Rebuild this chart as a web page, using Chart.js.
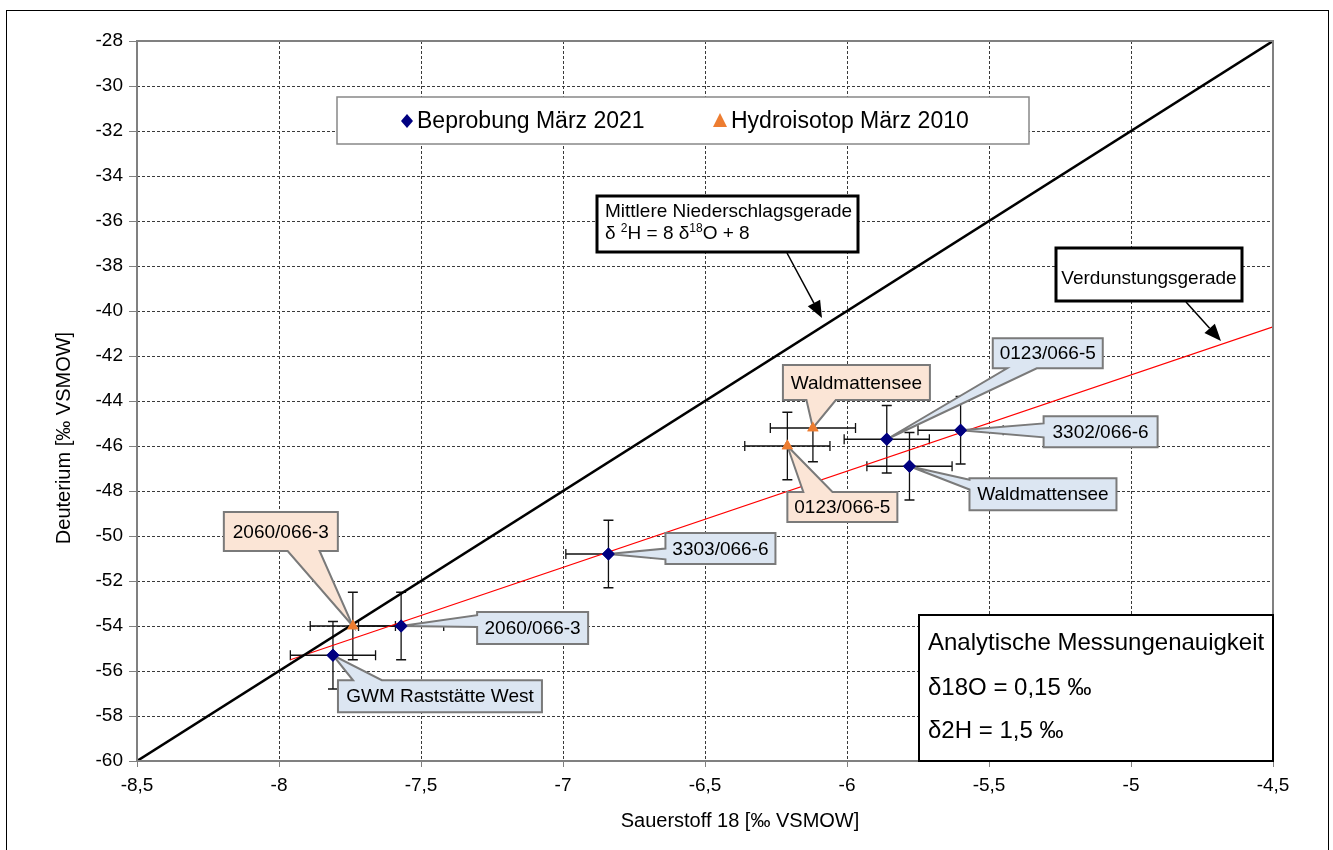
<!DOCTYPE html>
<html>
<head>
<meta charset="utf-8">
<script src="https://cdn.jsdelivr.net/npm/chart.js@4.4.0/dist/chart.umd.min.js"></script>
<style>
  html, body { margin: 0; padding: 0; background: #fff; }
  canvas { display: block; }
</style>
</head>
<body>
<canvas id="isoChart" width="1333" height="850"></canvas>
<script>
// Messwerte (δ18O / δ2H in ‰ VSMOW)
const beprobungNames = ['GWM Raststätte West', '2060/066-3', '3303/066-6', '0123/066-5', '3302/066-6', 'Waldmattensee'];
const beprobungO18 = [-7.81, -7.57, -6.84, -5.86, -5.60, -5.78];
const beprobungH2 = [-55.3, -54.0, -50.8, -45.7, -45.3, -46.9];

const hydroNames = ['2060/066-3', 'Waldmattensee', '0123/066-5'];
const hydroO18 = [-7.74, -6.12, -6.21];
const hydroH2 = [-54.0, -45.2, -46.0];

// Messungenauigkeit (Fehlerbalken)
const errO18 = 0.15;
const errH2 = 1.5;

// Geraden
const gmwlO18 = [-8.5, -4.5];
const gmwlH2 = [-60, -28];
const evapO18 = [-7.96, -4.5];
const evapH2 = [-55.5, -40.7];

const xTickLabels = ['-8,5', '-8', '-7,5', '-7', '-6,5', '-6', '-5,5', '-5', '-4,5'];

const FONT = '"Liberation Sans", Arial, sans-serif';
const toPoints = (xs, ys) => xs.map((x, i) => ({ x: x, y: ys[i] }));

// Beschriftungen: Box relativ zum Messpunkt (px), Seite und Lage der Spitze
const callouts = [
  { ds: 0, i: 0, dx: 5, dy: 25, w: 204, h: 32, side: 'top', b: [0.074, 0.215] },
  { ds: 0, i: 1, dx: 76, dy: -14, w: 111, h: 32, side: 'left', b: [0.1, 0.47] },
  { ds: 0, i: 2, dx: 57, dy: -21, w: 110, h: 31, side: 'left', b: [0.5, 0.85] },
  { ds: 0, i: 3, dx: 106, dy: -101, w: 110, h: 30, side: 'bottom', b: [0.13, 0.4] },
  { ds: 0, i: 4, dx: 83, dy: -14, w: 114, h: 31, side: 'left', b: [0.23, 0.68] },
  { ds: 0, i: 5, dx: 60, dy: 12, w: 147, h: 32, side: 'left', b: [0.05, 0.35] },
  { ds: 1, i: 0, dx: -129, dy: -114, w: 114, h: 39, side: 'bottom', b: [0.56, 0.84] },
  { ds: 1, i: 1, dx: -30, dy: -63, w: 147, h: 35, side: 'bottom', b: [0.16, 0.36] },
  { ds: 1, i: 2, dx: 0, dy: 46, w: 110, h: 30, side: 'top', b: [0.145, 0.41] }
];
const calloutFill = ['#dce6f2', '#fbe5d6'];
const calloutNames = [beprobungNames, hydroNames];

function calloutPath(ctx, x, y, w, h, side, b0, b1, tx, ty) {
  ctx.beginPath();
  ctx.moveTo(x, y);
  if (side === 'top') { ctx.lineTo(x + w * b0, y); ctx.lineTo(tx, ty); ctx.lineTo(x + w * b1, y); }
  ctx.lineTo(x + w, y);
  if (side === 'right') { ctx.lineTo(x + w, y + h * b0); ctx.lineTo(tx, ty); ctx.lineTo(x + w, y + h * b1); }
  ctx.lineTo(x + w, y + h);
  if (side === 'bottom') { ctx.lineTo(x + w * b1, y + h); ctx.lineTo(tx, ty); ctx.lineTo(x + w * b0, y + h); }
  ctx.lineTo(x, y + h);
  if (side === 'left') { ctx.lineTo(x, y + h * b1); ctx.lineTo(tx, ty); ctx.lineTo(x, y + h * b0); }
  ctx.closePath();
}

function arrow(ctx, x0, y0, x1, y1) {
  const a = Math.atan2(y1 - y0, x1 - x0);
  const len = 17, hw = 7;
  const bx = x1 - len * Math.cos(a), by = y1 - len * Math.sin(a);
  ctx.strokeStyle = '#000';
  ctx.lineWidth = 1.5;
  ctx.beginPath();
  ctx.moveTo(x0, y0);
  ctx.lineTo(bx, by);
  ctx.stroke();
  ctx.fillStyle = '#000';
  ctx.beginPath();
  ctx.moveTo(x1, y1);
  ctx.lineTo(bx + hw * Math.sin(a), by - hw * Math.cos(a));
  ctx.lineTo(bx - hw * Math.sin(a), by + hw * Math.cos(a));
  ctx.closePath();
  ctx.fill();
}

function box(ctx, x, y, w, h, lw, color) {
  ctx.fillStyle = '#fff';
  ctx.fillRect(x, y, w, h);
  ctx.strokeStyle = color;
  ctx.lineWidth = lw;
  ctx.strokeRect(x, y, w, h);
}

// Text mit Hochstellungen: [text, hoch?]
function runs(ctx, parts, x, y, size) {
  ctx.textAlign = 'left';
  ctx.textBaseline = 'alphabetic';
  parts.forEach(p => {
    const sup = p[1];
    ctx.font = (sup ? Math.round(size * 0.65) : size) + 'px ' + FONT;
    ctx.fillText(p[0], x, sup ? y - size * 0.38 : y);
    x += ctx.measureText(p[0]).width;
  });
}

const overlay = {
  id: 'overlay',
  beforeDatasetsDraw(chart) {
    const ctx = chart.ctx, xs = chart.scales.x, ys = chart.scales.y;
    ctx.save();
    ctx.strokeStyle = '#111';
    ctx.lineWidth = 1.3;
    const cap = 5;
    [[beprobungO18, beprobungH2], [hydroO18, hydroH2]].forEach(([ox, hy]) => {
      ox.forEach((o, i) => {
        const px = xs.getPixelForValue(o), py = ys.getPixelForValue(hy[i]);
        const xl = xs.getPixelForValue(o - errO18), xr = xs.getPixelForValue(o + errO18);
        const yt = ys.getPixelForValue(hy[i] + errH2), yb = ys.getPixelForValue(hy[i] - errH2);
        ctx.beginPath();
        ctx.moveTo(xl, py); ctx.lineTo(xr, py);
        ctx.moveTo(xl, py - cap); ctx.lineTo(xl, py + cap);
        ctx.moveTo(xr, py - cap); ctx.lineTo(xr, py + cap);
        ctx.moveTo(px, yt); ctx.lineTo(px, yb);
        ctx.moveTo(px - cap, yt); ctx.lineTo(px + cap, yt);
        ctx.moveTo(px - cap, yb); ctx.lineTo(px + cap, yb);
        ctx.stroke();
      });
    });
    ctx.restore();
  },
  afterDatasetsDraw(chart) {
    const ctx = chart.ctx, area = chart.chartArea;
    ctx.save();

    // Beschriftungen der Messpunkte
    callouts.forEach(c => {
      const pt = chart.getDatasetMeta(c.ds).data[c.i];
      const x = pt.x + c.dx, y = pt.y + c.dy;
      calloutPath(ctx, x, y, c.w, c.h, c.side, c.b[0], c.b[1], pt.x, pt.y);
      ctx.fillStyle = calloutFill[c.ds];
      ctx.fill();
      ctx.strokeStyle = '#7a7a7a';
      ctx.lineWidth = 2;
      ctx.lineJoin = 'miter';
      ctx.stroke();
      ctx.fillStyle = '#000';
      ctx.font = '19px ' + FONT;
      ctx.textAlign = 'center';
      ctx.textBaseline = 'middle';
      ctx.fillText(calloutNames[c.ds][c.i], x + c.w / 2, y + c.h / 2 + 1);
    });

    // Marker wieder obenauf
    [0, 1].forEach(d => chart.getDatasetMeta(d).data.forEach(p => p.draw(ctx, area)));

    // Plotbereich-Rahmen
    ctx.strokeStyle = '#808080';
    ctx.lineWidth = 2;
    ctx.strokeRect(area.left, area.top, area.right - area.left, area.bottom - area.top);

    // Legende
    box(ctx, 337, 97, 692, 47, 1.5, '#888');
    const ds = chart.data.datasets;
    ctx.fillStyle = ds[0].backgroundColor;
    ctx.beginPath();
    ctx.moveTo(407, 114); ctx.lineTo(413, 121); ctx.lineTo(407, 128); ctx.lineTo(401, 121);
    ctx.closePath(); ctx.fill();
    ctx.fillStyle = ds[1].backgroundColor;
    ctx.beginPath();
    ctx.moveTo(720, 113); ctx.lineTo(727, 127); ctx.lineTo(713, 127);
    ctx.closePath(); ctx.fill();
    ctx.fillStyle = '#000';
    ctx.font = '23px ' + FONT;
    ctx.textAlign = 'left';
    ctx.textBaseline = 'middle';
    ctx.fillText(ds[0].label, 417, 122);
    ctx.fillText(ds[1].label, 731, 122);

    // Mittlere Niederschlagsgerade
    arrow(ctx, 787, 253, 822, 318);
    box(ctx, 597, 196, 261, 56, 3, '#000');
    ctx.fillStyle = '#000';
    ctx.font = '19px ' + FONT;
    ctx.textAlign = 'left';
    ctx.textBaseline = 'alphabetic';
    ctx.fillText('Mittlere Niederschlagsgerade', 605, 217);
    runs(ctx, [['δ ', false], ['2', true], ['H = 8 δ', false], ['18', true], ['O + 8', false]], 605, 239, 19);

    // Verdunstungsgerade
    arrow(ctx, 1186, 302, 1221, 341);
    box(ctx, 1056, 248, 186, 53, 3, '#000');
    ctx.fillStyle = '#000';
    ctx.font = '19px ' + FONT;
    ctx.textAlign = 'center';
    ctx.textBaseline = 'middle';
    ctx.fillText('Verdunstungsgerade', 1149, 279);

    // Messungenauigkeit
    box(ctx, 919, 615, 354, 146, 2, '#000');
    ctx.fillStyle = '#000';
    ctx.font = '24px ' + FONT;
    ctx.textAlign = 'left';
    ctx.textBaseline = 'middle';
    ctx.fillText('Analytische Messungenauigkeit', 928, 643);
    ctx.fillText('δ18O = ' + String(errO18).replace('.', ',') + ' ‰', 928, 688);
    ctx.fillText('δ2H = ' + String(errH2).replace('.', ',') + ' ‰', 928, 731);

    ctx.restore();
  },
  afterDraw(chart) {
    const ctx = chart.ctx;
    ctx.save();
    ctx.fillStyle = '#000';
    ctx.font = '20px ' + FONT;
    ctx.textAlign = 'center';
    ctx.textBaseline = 'middle';
    ctx.fillText('Sauerstoff 18 [‰ VSMOW]', 740, 821);
    ctx.translate(64, 438);
    ctx.rotate(-Math.PI / 2);
    ctx.fillText('Deuterium [‰ VSMOW]', 0, 0);
    ctx.restore();

    ctx.save();
    ctx.strokeStyle = '#000';
    ctx.lineWidth = 1;
    ctx.strokeRect(6.5, 10.5, 1322, 845);
    ctx.restore();
  }
};

const chart = new Chart(document.getElementById('isoChart').getContext('2d'), {
  type: 'scatter',
  data: {
    datasets: [
      {
        label: 'Beprobung März 2021',
        data: toPoints(beprobungO18, beprobungH2),
        pointStyle: 'rectRot',
        pointRadius: 6.5,
        backgroundColor: '#000080',
        borderColor: '#000080',
        borderWidth: 0
      },
      {
        label: 'Hydroisotop März 2010',
        data: toPoints(hydroO18, hydroH2),
        pointStyle: 'triangle',
        pointRadius: 6.5,
        backgroundColor: '#ED7D31',
        borderColor: '#ED7D31',
        borderWidth: 0
      },
      {
        label: 'Mittlere Niederschlagsgerade',
        data: toPoints(gmwlO18, gmwlH2),
        showLine: true,
        pointRadius: 0,
        borderColor: '#000',
        borderWidth: 2.5
      },
      {
        label: 'Verdunstungsgerade',
        data: toPoints(evapO18, evapH2),
        showLine: true,
        pointRadius: 0,
        borderColor: '#ff0000',
        borderWidth: 1.2
      }
    ]
  },
  options: {
    responsive: false,
    devicePixelRatio: 1,
    animation: false,
    layout: { padding: { top: 41, right: 60, left: 0, bottom: 0 } },
    plugins: {
      legend: { display: false },
      tooltip: { enabled: false }
    },
    scales: {
      x: {
        type: 'linear',
        min: -8.5,
        max: -4.5,
        ticks: {
          stepSize: 0.5,
          autoSkip: false,
          maxRotation: 0,
          color: '#000',
          padding: 7,
          font: { size: 19, family: FONT },
          callback: (v, i) => xTickLabels[i]
        },
        grid: { color: '#3a3a3a', lineWidth: 1, tickLength: 6, tickColor: '#808080' },
        border: { display: false, dash: [3, 2] },
        afterFit: s => { s.height = 89; }
      },
      y: {
        type: 'linear',
        min: -60,
        max: -28,
        ticks: {
          stepSize: 2,
          color: '#000',
          padding: 6,
          font: { size: 19, family: FONT }
        },
        grid: { color: '#3a3a3a', lineWidth: 1, tickLength: 8, tickColor: '#808080' },
        border: { display: false, dash: [3, 2] },
        afterFit: s => { s.width = 137; }
      }
    }
  },
  plugins: [overlay]
});
</script>
</body>
</html>
